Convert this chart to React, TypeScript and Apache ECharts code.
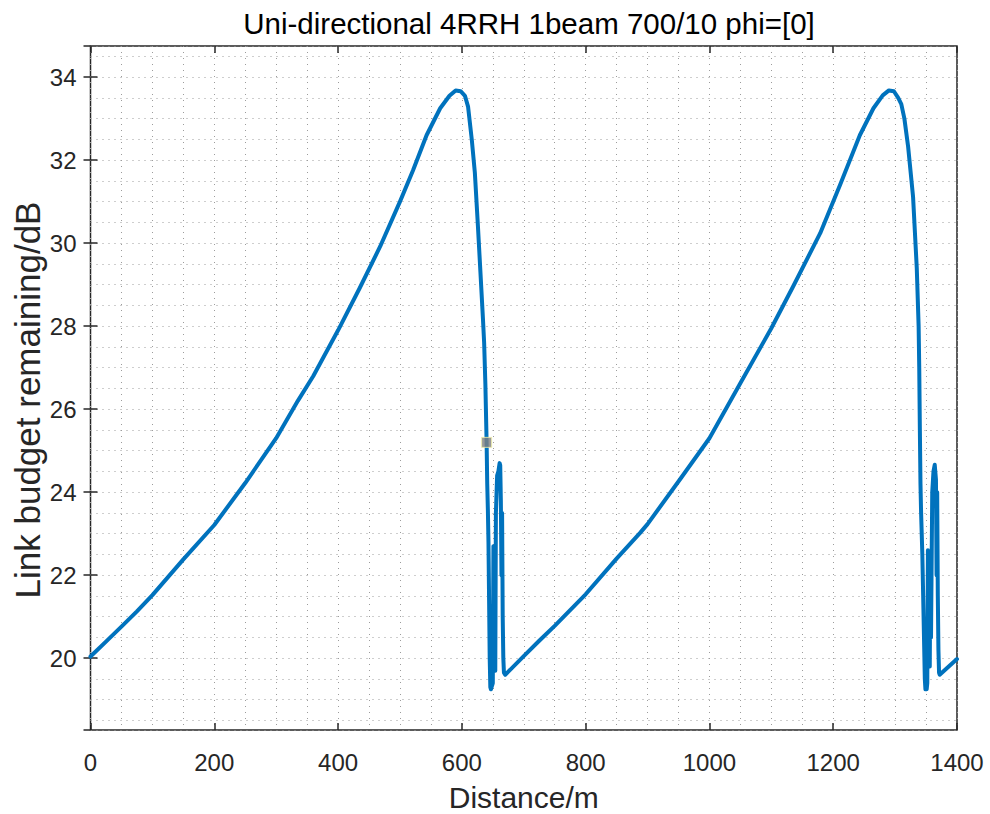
import React, { useEffect, useRef } from 'react';
import * as echarts from 'echarts';

const chartTitle = 'Uni-directional 4RRH 1beam 700/10 phi=[0]';
const xAxisName = 'Distance/m';
const yAxisName = 'Link budget remaining/dB';

// first period (0 .. 670 m)
const cycle1Distance = [0, 25, 50, 75, 100, 150, 200, 250, 300, 335, 360, 400, 435, 468, 500, 521, 543, 565, 580, 590, 598, 605, 610, 616, 621, 626, 630, 634, 636, 638, 640, 641, 642, 643, 644, 645, 646, 647, 648, 650, 651, 653, 654, 655, 657, 659, 661, 662, 663, 664, 665, 666, 667, 668, 670];
const cycle1Budget = [20.04, 20.4, 20.76, 21.13, 21.52, 22.38, 23.21, 24.22, 25.3, 26.2, 26.8, 27.9, 28.92, 29.92, 31.0, 31.75, 32.6, 33.25, 33.55, 33.68, 33.66, 33.55, 33.29, 32.5, 31.7, 30.4, 29.3, 28.2, 27.6, 26.6, 25.2, 24.2, 23.6, 22.8, 21.4, 20.0, 19.3, 19.25, 19.3, 19.4, 22.7, 21.0, 19.7, 23.5, 24.4, 24.5, 24.7, 24.65, 23.8, 22.0, 23.5, 21.0, 20.0, 19.65, 19.6];

// second period (700 .. 1400 m)
const cycle2Distance = [700, 725, 750, 800, 850, 888, 900, 952, 1000, 1049, 1100, 1135, 1179, 1211, 1243, 1265, 1280, 1290, 1298, 1305, 1310, 1315, 1321, 1329, 1335, 1338, 1339, 1340, 1341, 1342, 1344, 1346, 1348, 1349, 1351, 1352, 1353, 1355, 1356, 1357, 1358, 1360, 1362, 1364, 1366, 1367, 1368, 1369, 1370, 1371, 1372, 1400];
const cycle2Budget = [20.05, 20.42, 20.78, 21.54, 22.4, 23.02, 23.23, 24.3, 25.3, 26.6, 27.95, 28.95, 30.24, 31.4, 32.6, 33.25, 33.56, 33.68, 33.66, 33.5, 33.35, 33.0, 32.33, 31.12, 29.4, 28.0, 27.0, 25.5, 24.2, 23.5, 22.5, 21.0, 19.5, 19.25, 19.25, 19.4, 22.6, 21.0, 19.8, 22.5, 20.5, 24.0, 24.5, 24.66, 24.3, 22.0, 24.0, 21.5, 20.2, 19.65, 19.6, 19.98];

// data tip marker
const tipDistance = [640];
const tipBudget = [25.2];

const FONT = '"Liberation Sans", Arial, Helvetica, sans-serif';
const AXIS_COLOR = '#262626';
const GRID_DOTS = { color: '#9c9c9c', width: 1, type: [1, 5] as number[] };

export default function App() {
  const ref = useRef<HTMLDivElement>(null);

  useEffect(() => {
    if (!ref.current) return;
    const chart = echarts.init(ref.current, undefined, { renderer: 'svg' });

    const lineData: number[][] = [];
    cycle1Distance.forEach((d, i) => lineData.push([d, cycle1Budget[i]]));
    cycle2Distance.forEach((d, i) => lineData.push([d, cycle2Budget[i]]));
    const tipData = tipDistance.map((d, i) => [d, tipBudget[i]]);

    const commonX = {
      type: 'value' as const,
      min: 0,
      max: 1400,
      interval: 200,
    };
    const commonY = {
      type: 'value' as const,
      min: 18.27,
      max: 34.75,
      minInterval: 2,
      maxInterval: 2,
    };
    const tick = { show: true, inside: true, length: 7, lineStyle: { color: AXIS_COLOR, width: 1.5 } };

    chart.setOption({
      animation: false,
      backgroundColor: '#ffffff',
      title: {
        text: chartTitle,
        left: 524,
        top: 3,
        textAlign: 'center',
        textStyle: { fontFamily: FONT, fontSize: 29.5, fontWeight: 'normal', color: '#000000' },
      },
      graphic: [
        {
          type: 'text',
          x: 27,
          y: 400,
          rotation: Math.PI / 2,
          style: {
            text: yAxisName,
            fontFamily: FONT,
            fontSize: 35,
            fill: AXIS_COLOR,
            textAlign: 'center',
            textVerticalAlign: 'middle',
          },
        },
      ],
      grid: {
        left: 90.5,
        right: 33,
        top: 46,
        bottom: 84,
        containLabel: false,
        outerBoundsMode: 'none',
        show: true,
        borderColor: AXIS_COLOR,
        borderWidth: 1.5,
        backgroundColor: 'transparent',
      },
      xAxis: [
        {
          ...commonX,
          position: 'bottom',
          name: xAxisName,
          nameLocation: 'middle',
          nameGap: 52,
          nameTextStyle: { fontFamily: FONT, fontSize: 30, color: AXIS_COLOR },
          axisLine: { show: false },
          axisTick: tick,
          axisLabel: {
            margin: 20,
            fontFamily: FONT,
            fontSize: 24,
            color: AXIS_COLOR,
            formatter: (v: number) => String(v),
          },
          splitLine: { show: true, lineStyle: GRID_DOTS },
          minorTick: { show: false, splitNumber: 4 },
          minorSplitLine: { show: true, lineStyle: GRID_DOTS },
        },
        {
          ...commonX,
          position: 'top',
          axisLine: { show: false },
          axisTick: tick,
          axisLabel: { show: false },
          splitLine: { show: false },
        },
      ],
      yAxis: [
        {
          ...commonY,
          position: 'left',
          axisLine: { show: false },
          axisTick: tick,
          axisLabel: {
            margin: 14,
            fontFamily: FONT,
            fontSize: 24,
            color: AXIS_COLOR,
            showMinLabel: false,
            showMaxLabel: false,
          },
          splitLine: { show: true, lineStyle: GRID_DOTS },
          minorTick: { show: false, splitNumber: 4 },
          minorSplitLine: { show: true, lineStyle: GRID_DOTS },
        },
        {
          ...commonY,
          position: 'right',
          axisLine: { show: false },
          axisTick: tick,
          axisLabel: { show: false },
          splitLine: { show: false },
        },
      ],
      series: [
        {
          type: 'line',
          xAxisIndex: 0,
          yAxisIndex: 0,
          data: lineData,
          showSymbol: false,
          symbol: 'none',
          lineStyle: { color: '#0072BD', width: 4, join: 'round', cap: 'round' },
          z: 3,
        },
        {
          type: 'scatter',
          xAxisIndex: 0,
          yAxisIndex: 0,
          data: tipData,
          symbol: 'rect',
          symbolSize: 10,
          itemStyle: { color: '#808080', borderColor: '#f2f0a8', borderWidth: 1 },
          z: 4,
        },
      ],
    });

    return () => chart.dispose();
  }, []);

  return (
    <div
      ref={ref}
      style={{ position: 'fixed', left: 0, top: 0, width: 990, height: 814, background: '#ffffff' }}
    />
  );
}
